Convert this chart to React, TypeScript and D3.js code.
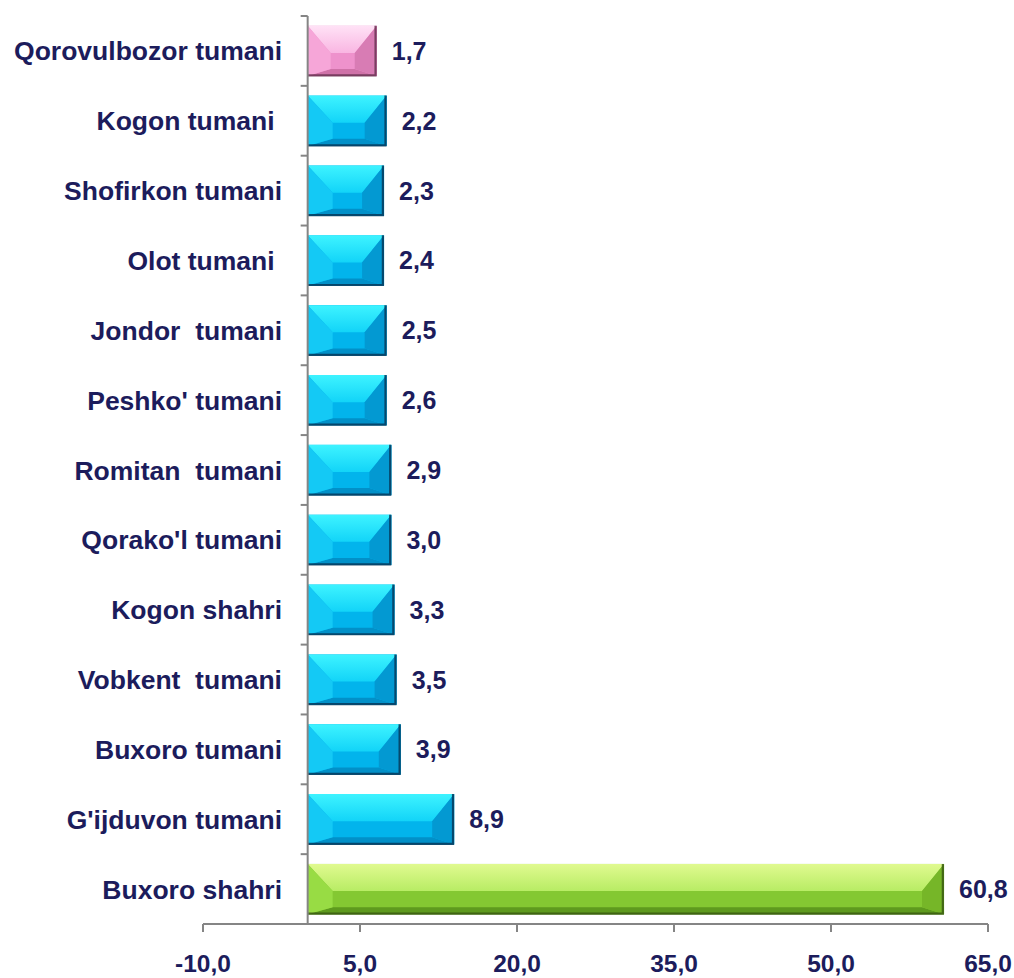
import React from 'react';
import * as d3 from 'd3';

// categories top -> bottom
const categories = [
  'Qorovulbozor tumani',
  'Kogon tumani ',
  'Shofirkon tumani',
  'Olot tumani ',
  'Jondor  tumani',
  "Peshko' tumani",
  'Romitan  tumani',
  "Qorako'l tumani",
  'Kogon shahri',
  'Vobkent  tumani',
  'Buxoro tumani',
  "G'ijduvon tumani",
  'Buxoro shahri',
];

// bar lengths as read against the axis
const barValues = [6.6, 7.55, 7.3, 7.3, 7.55, 7.55, 8.0, 8.0, 8.3, 8.5, 8.9, 14.0, 60.8];

// numbers printed next to the bars
const labelValues = [1.7, 2.2, 2.3, 2.4, 2.5, 2.6, 2.9, 3.0, 3.3, 3.5, 3.9, 8.9, 60.8];

const xTicks = [-10, 5, 20, 35, 50, 65];

// colour per bar: p = pink, b = blue, g = green
const barKinds = ['p', 'b', 'b', 'b', 'b', 'b', 'b', 'b', 'b', 'b', 'b', 'b', 'g'];

const palettes: Record<string, any> = {
  b: { top0: '#3ef3ff', top1: '#12d4f8', face: '#02b4ec', bottom: '#0290c8', left: '#14c9f5', right: '#0399d2', edge: '#063a5c' },
  p: { top0: '#ffe2f6', top1: '#f9b6e2', face: '#ee92cc', bottom: '#cf72a8', left: '#f6a6d8', right: '#d87cb4', edge: '#6a3454' },
  g: { top0: '#e0fa90', top1: '#b8ec64', face: '#84c832', bottom: '#5e9a1e', left: '#98dc44', right: '#76b628', edge: '#3a5a12' },
};

const locale = d3.formatLocale({ decimal: ',', thousands: ' ', grouping: [3], currency: ['', ''], minus: '-' });
const fmt = locale.format('.1f');

const W = 1014;
const H = 978;
const textColor = '#1c1c5c';
const axisColor = '#858585';

export default function App() {
  const x = d3.scaleLinear().domain([-10, 65]).range([203, 988]);
  const y = d3.scaleBand<string>().domain(categories).range([16, 924]).paddingInner(0.28).paddingOuter(0.14);
  const step = y.step();
  const bw = y.bandwidth();
  const x0 = x(0);
  const yTop = y.range()[0];
  const yBot = y.range()[1];

  return (
    <svg width={W} height={H} style={{ position: 'absolute', left: 0, top: 0, background: '#fff' }}
      fontFamily="'Liberation Sans', Arial, sans-serif">
      {categories.map((c, i) => {
        const pal = palettes[barKinds[i]];
        const bx0 = x0;
        const bx1 = x(barValues[i]);
        const by0 = y(c)!;
        const by1 = by0 + bw;
        const l = Math.min(25, (bx1 - bx0) / 3);
        const r = Math.min(22, (bx1 - bx0) / 3);
        const t = bw * 0.54;
        const b = bw * 0.14;
        const gid = 'top' + i;
        return (
          <g key={c}>
            <defs>
              <linearGradient id={gid} x1="0" y1="0" x2="0" y2="1">
                <stop offset="0" stopColor={pal.top0} />
                <stop offset="1" stopColor={pal.top1} />
              </linearGradient>
            </defs>
            <rect x={bx0} y={by0} width={bx1 - bx0} height={bw} fill={pal.face} />
            <polygon points={`${bx0},${by0} ${bx1},${by0} ${bx1 - r},${by0 + t} ${bx0 + l},${by0 + t}`} fill={`url(#${gid})`} />
            <polygon points={`${bx0},${by1} ${bx1},${by1} ${bx1 - r},${by1 - b} ${bx0 + l},${by1 - b}`} fill={pal.bottom} />
            <polygon points={`${bx0},${by0} ${bx0 + l},${by0 + t} ${bx0 + l},${by1 - b} ${bx0},${by1}`} fill={pal.left} />
            <polygon points={`${bx1},${by0} ${bx1 - r},${by0 + t} ${bx1 - r},${by1 - b} ${bx1},${by1}`} fill={pal.right} />
            <path d={`M${bx1 - 1.2},${by0} V${by1 - 0.6} H${bx0}`} fill="none" stroke={pal.edge} strokeWidth={2.2} strokeOpacity={0.85} />
            <text x={bx1 + 15} y={by0 + bw / 2} dy="0.36em" fontSize={25} fontWeight="bold" fill={textColor}>
              {fmt(labelValues[i])}
            </text>
            <text x={282} y={by0 + bw / 2} dy="0.36em" textAnchor="end" fontSize={26.5} fontWeight="bold"
              fill={textColor} style={{ whiteSpace: 'pre' }}>
              {c}
            </text>
          </g>
        );
      })}

      {/* vertical axis */}
      <line x1={x0} x2={x0} y1={yTop} y2={yBot} stroke={axisColor} strokeWidth={2} />
      {d3.range(categories.length + 1).map((k) => (
        <line key={'yt' + k} x1={x0 - 7} x2={x0} y1={yTop + k * step} y2={yTop + k * step} stroke={axisColor} strokeWidth={2} />
      ))}

      {/* horizontal axis */}
      <line x1={x(-10)} x2={x(65)} y1={yBot} y2={yBot} stroke={axisColor} strokeWidth={2} />
      {xTicks.map((v) => (
        <g key={'xt' + v}>
          <line x1={x(v)} x2={x(v)} y1={yBot} y2={yBot + 8} stroke={axisColor} strokeWidth={2} />
          <text x={x(v)} y={963} dy="0.36em" textAnchor="middle" fontSize={24.5} fontWeight="bold" fill={textColor}>
            {fmt(v)}
          </text>
        </g>
      ))}
    </svg>
  );
}
